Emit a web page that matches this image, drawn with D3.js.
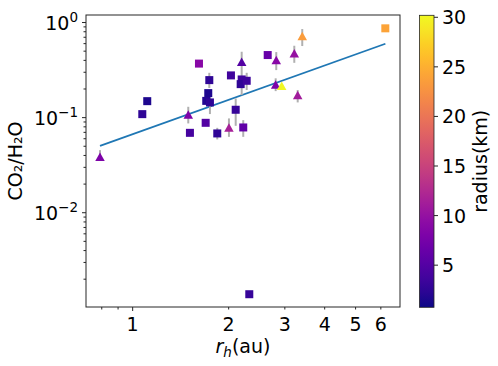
<!DOCTYPE html>
<html><head><meta charset="utf-8">
<script src="https://cdn.jsdelivr.net/npm/d3@7"></script>
<style>body{margin:0;background:#fff}svg{display:block;font-family:"DejaVu Sans",sans-serif}</style>
</head><body><svg id="c" width="498" height="366"></svg>
<script>
// ---- data ----
const rh     = [0.790,1.072,1.111,1.494,1.614,1.512,1.694,1.739,1.726,1.701,1.747,1.842,2.004,2.033,2.197,2.197,2.181,2.278,2.104,2.222,2.321,2.651,2.820,3.212,3.402,6.197,2.808,2.933,3.292];
const ratio  = [0.0387,0.1088,0.149,0.108,0.370,0.0692,0.0882,0.248,0.181,0.150,0.1445,0.0682,0.0788,0.278,0.387,0.252,0.225,0.244,0.121,0.0788,0.00139,0.455,0.403,0.474,0.721,0.869,0.2236,0.216,0.1725];
const radius = [8,2.5,1.5,8,9,4,5,2.5,1.5,1.8,2.5,2.5,11.5,3.7,5,3.7,2.5,3.5,3,6,3,6.5,9,10,23.5,24,8,30,11];
const marker = ['^','s','s','^','s','s','s','s','s','s','s','s','^','s','^','s','s','s','s','s','s','s','^','^','^','s','^','^','^'];
const errLo  = [0.0357,null,null,0.0869,null,null,null,0.205,null,null,0.109,0.0590,0.0628,null,0.1726,null,null,0.195,0.0820,0.0628,null,null,0.316,0.377,0.566,null,0.190,null,0.1445];
const errHi  = [0.0455,null,null,0.130,null,null,null,0.296,null,null,0.168,0.0781,0.0981,null,0.493,null,null,0.296,0.159,0.0941,null,null,0.489,0.570,0.854,null,0.259,null,0.195];
const fitX = [0.790, 6.2];
const fitY = [0.0505, 0.598];
const xTickVals = [1,2,3,4,5,6];
const xTickLabels = ["1","2","3","4","5","6"];
const xMinorVals = [0.8,0.9];
const yMajorVals = [0.01,0.1,1];
const yMajorExp = ["\u22122","\u22121","0"];
const cbTicks = [5,10,15,20,25,30];
const radiusDomain = [0.75, 30.2];

// ---- layout ----
const svg = d3.select("#c");
const L=86, R=400, T=15, B=307;
const x = d3.scaleLog().domain([0.714, 6.89]).range([L, R]);
const y = d3.scaleLog().domain([0.00102, 1.2]).range([B, T]);
const color = d3.scaleSequential(d3.interpolatePlasma).domain(radiusDomain);
const axisCol = "#262626";
const fs = 19;

// fit line
svg.append("path")
  .attr("d", d3.line().x(d=>x(d[0])).y(d=>y(d[1]))(d3.zip(fitX, fitY)))
  .attr("stroke","#1f77b4").attr("stroke-width",1.8).attr("fill","none");

// error bars
const idx = d3.range(rh.length);
svg.append("g").selectAll("line").data(idx.filter(i=>errLo[i]!=null)).join("line")
  .attr("x1",i=>x(rh[i])).attr("x2",i=>x(rh[i]))
  .attr("y1",i=>y(errLo[i])).attr("y2",i=>y(errHi[i]))
  .attr("stroke","#b0b0b0").attr("stroke-width",2);

// markers
const sq = 8, tw = 9.5, th = 8.5;
const g = svg.append("g");
idx.forEach(i=>{
  const cx = x(rh[i]), cy = y(ratio[i]);
  if (marker[i]==='s') {
    g.append("rect").attr("x",cx-sq/2).attr("y",cy-sq/2).attr("width",sq).attr("height",sq)
      .attr("fill",color(radius[i]));
  } else {
    g.append("path").attr("d",`M${cx},${cy-th/2}L${cx+tw/2},${cy+th/2}L${cx-tw/2},${cy+th/2}Z`)
      .attr("fill",color(radius[i]));
  }
});

// frame
svg.append("rect").attr("x",L).attr("y",T).attr("width",R-L).attr("height",B-T)
  .attr("fill","none").attr("stroke",axisCol).attr("stroke-width",1);

// x ticks
const xa = svg.append("g");
xTickVals.forEach((v,k)=>{
  xa.append("line").attr("x1",x(v)).attr("x2",x(v)).attr("y1",B).attr("y2",B+(v===1?4:2.5)).attr("stroke",axisCol);
  xa.append("text").attr("x",x(v)).attr("y",B+24).attr("text-anchor","middle").attr("font-size",fs).attr("fill","#000").text(xTickLabels[k]);
});
xMinorVals.forEach(v=>{
  xa.append("line").attr("x1",x(v)).attr("x2",x(v)).attr("y1",B).attr("y2",B+2.5).attr("stroke",axisCol);
});

// y ticks
const ya = svg.append("g");
yMajorVals.forEach((v,k)=>{
  const py = y(v);
  ya.append("line").attr("x1",L-4).attr("x2",L).attr("y1",py).attr("y2",py).attr("stroke",axisCol);
  const t = ya.append("text").attr("x",L-8).attr("y",py+7.5).attr("text-anchor","end").attr("font-size",fs).attr("fill","#000");
  t.append("tspan").text("10");
  t.append("tspan").attr("font-size",13.5).attr("dy",-8.5).text(yMajorExp[k]);
});
[-3,-2,-1,0].forEach(e=>{
  d3.range(2,10).forEach(m=>{
    const v = m*Math.pow(10,e);
    if (v>y.domain()[0] && v<y.domain()[1]) {
      ya.append("line").attr("x1",L-2.5).attr("x2",L).attr("y1",y(v)).attr("y2",y(v)).attr("stroke",axisCol);
    }
  });
});

// axis labels
svg.append("text").attr("transform",`translate(21.5,${(T+B)/2}) rotate(-90)`).attr("text-anchor","middle")
  .attr("font-size",fs).attr("fill","#000").text("CO\u2082/H\u2082O");
const xl = svg.append("text").attr("x",(L+R)/2).attr("y",353).attr("text-anchor","middle").attr("font-size",fs).attr("fill","#000");
xl.append("tspan").attr("font-style","italic").text("r");
xl.append("tspan").attr("font-style","italic").attr("font-size",13.5).attr("dy",4).text("h");
xl.append("tspan").attr("dy",-4).text("(au)");

// colorbar
const cbL=419.5, cbR=434, cbT=15.3, cbB=307.3;
const cy = d3.scaleLinear().domain(radiusDomain).range([cbB, cbT]);
const defs = svg.append("defs");
const grad = defs.append("linearGradient").attr("id","plasma").attr("x1",0).attr("y1",1).attr("x2",0).attr("y2",0);
d3.range(0,1.0001,0.05).forEach(t=>{
  grad.append("stop").attr("offset",t).attr("stop-color",d3.interpolatePlasma(t));
});
svg.append("rect").attr("x",cbL).attr("y",cbT).attr("width",cbR-cbL).attr("height",cbB-cbT).attr("fill","url(#plasma)")
  .attr("stroke",axisCol).attr("stroke-width",0.8);
cbTicks.forEach(v=>{
  svg.append("line").attr("x1",cbR).attr("x2",cbR+4).attr("y1",cy(v)).attr("y2",cy(v)).attr("stroke",axisCol);
  svg.append("text").attr("x",cbR+8).attr("y",cy(v)+7).attr("font-size",fs).attr("fill","#000").text(v);
});
svg.append("text").attr("transform",`translate(487,${(cbT+cbB)/2}) rotate(-90)`).attr("text-anchor","middle")
  .attr("font-size",fs).attr("fill","#000").text("radius(km)");
</script></body></html>
